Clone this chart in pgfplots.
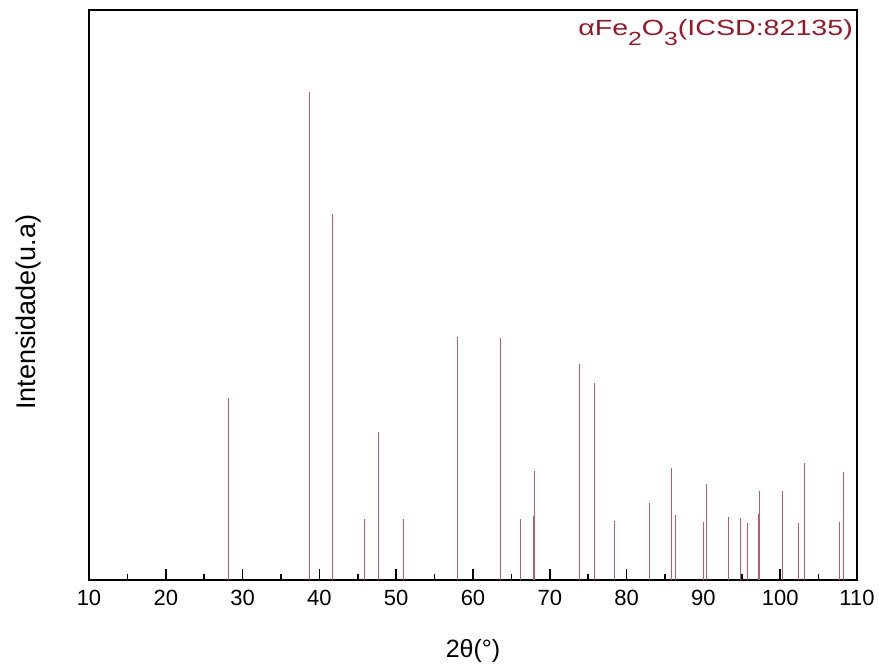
\documentclass[border=0pt]{standalone}
\usepackage{pgfplots}
\pgfplotsset{compat=1.18}
\usetikzlibrary{calc}
\usepackage{graphicx}
\usepackage{fontspec}
\setmainfont{Liberation Sans}
\definecolor{peak}{RGB}{190,90,110}
\definecolor{ann}{RGB}{150,25,40}
\newcommand{\sub}[1]{\raisebox{-0.45em}{\fontsize{19}{19}\selectfont #1}}
\begin{document}
\begin{tikzpicture}
\begin{axis}[
 scale only axis, width=768pt, height=570pt,
 xmin=10, xmax=110, ymin=0, ymax=116.8,
 axis line style={line width=1.5pt},
 xtick={10,20,...,110}, minor xtick={15,25,...,105},
 ytick=\empty,
 xtick pos=bottom, tick align=inside,
 major tick length=11pt, minor tick length=6pt,
 every tick/.style={black, line width=1.5pt},
 every minor tick/.style={black, line width=1.5pt},
 ticklabel style={font=\fontsize{22}{26}\selectfont},
 xticklabel style={yshift=-7pt},
 /pgf/number format/assume math mode=true,
 xlabel={2θ(°)}, ylabel={Intensidade(u.a)},
 xlabel style={font=\fontsize{25}{30}\selectfont, at={(rel axis cs:0.5,0)}, anchor=base, yshift=-78pt},
 ylabel style={font=\fontsize{27}{32}\selectfont, at={(rel axis cs:-0.0794,0.470)}, anchor=center},
 clip=false
]
\addplot[ycomb, color=peak, line width=0.7pt, mark=none] table {
x y
28.08 37.3
38.64 100
41.64 74.9
45.82 12.5
47.72 30.3
50.90 12.5
57.98 49.8
63.60 49.6
66.20 12.5
67.80 13.1
67.93 22.4
73.85 44.3
75.84 40.3
78.36 12.0
82.90 15.7
85.84 22.9
86.30 13.3
90.00 11.8
90.40 19.7
93.30 13.0
94.75 12.7
95.75 11.7
97.10 13.5
97.22 18.3
100.30 18.3
102.40 11.6
103.10 24.0
107.65 11.8
108.20 22.1
};
\node[anchor=base east, font=\fontsize{22}{26}\selectfont, text=ann, inner sep=0pt]
  at (rel axis cs:1,1) [xshift=-4pt, yshift=-26pt] {\scalebox{1.3}[1]{αFe\sub{2}O\sub{3}(ICSD:82135)}};
\end{axis}
\path (current axis.south west) ++(-89pt,-89pt) rectangle ($(current axis.north east)+(22pt,10pt)$);
\end{tikzpicture}
\end{document}
